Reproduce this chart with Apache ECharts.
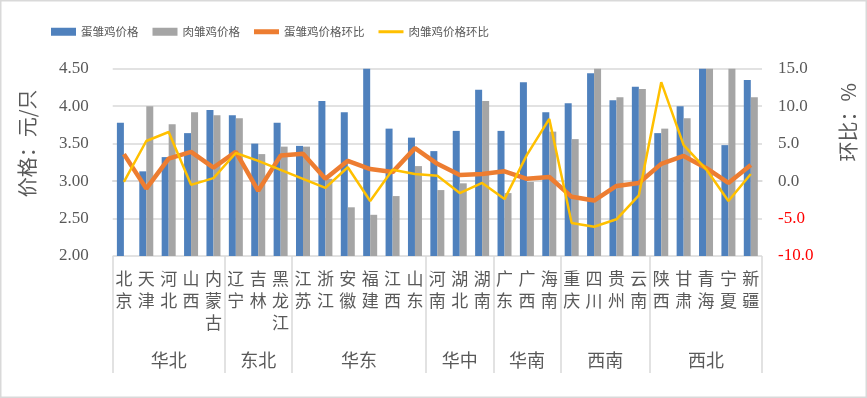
<!DOCTYPE html>
<html>
<head>
<meta charset="utf-8">
<script src="https://cdn.jsdelivr.net/npm/echarts@6/dist/echarts.min.js"></script>
<style>
html,body{margin:0;padding:0;background:#fff;}
#main{width:867px;height:398px;}
</style>
</head>
<body>
<div id="main"></div>
<script>
var categories = ['北京','天津','河北','山西','内蒙古','辽宁','吉林','黑龙江','江苏','浙江','安徽','福建','江西','山东','河南','湖北','湖南','广东','广西','海南','重庆','四川','贵州','云南','陕西','甘肃','青海','宁夏','新疆'];
var groups = ['华北','东北','华东','华中','华南','西南','西北'];
var groupSizes = [5,3,6,3,3,4,5];
var eggPrice = [3.78,3.13,3.32,3.64,3.95,3.88,3.50,3.78,3.47,4.07,3.92,4.55,3.70,3.58,3.40,3.67,4.22,3.67,4.32,3.92,4.04,4.44,4.08,4.26,3.64,4.00,4.60,3.48,4.35];
var broilerPrice = [null,4.00,3.76,3.92,3.88,3.84,3.36,3.46,3.46,3.03,2.65,2.55,2.80,3.20,2.88,2.97,4.07,2.84,2.99,3.66,3.56,4.60,4.12,4.23,3.70,3.84,4.60,4.60,4.12];
var eggMoM = [3.6,-1.0,3.0,3.9,1.8,3.9,-1.3,3.4,3.65,0.3,2.7,1.6,1.2,4.4,2.3,0.8,0.95,1.3,0.3,0.55,-2.1,-2.6,-0.65,-0.25,2.3,3.35,1.75,-0.25,2.15];
var broilerMoM = [-0.1,5.35,6.55,-0.5,0.4,3.75,2.7,1.5,0.3,-0.9,1.85,-2.65,1.5,0.95,0.7,-1.6,-0.25,-2.4,3.5,8.3,-5.6,-6.1,-5.1,-1.9,13.2,4.8,1.6,-2.65,0.95];
var leftTicks = {min:2, max:4.5, interval:0.5};
var rightTicks = {min:-10, max:15, interval:5};

var boundaries = [0];
var centers = [];
var acc = 0;
groupSizes.forEach(function(s){ centers.push(acc + s/2); acc += s; boundaries.push(acc); });

var TXT = '#595959';
var GRID = '#d9d9d9';
var FONT = '"Noto Sans CJK SC", sans-serif';
var NUMFONT = '"Liberation Serif", "Noto Sans CJK SC", serif';
// legend line icons: thin horizontal band inside an 8px tall box
var thickLine = 'path://M0,0L0.01,0L0,0.01Z M0,1.5L25,1.5L25,6.5L0,6.5Z M0,8L0.01,8L0,7.99Z';
var thinLine = 'path://M0,0L0.01,0L0,0.01Z M0,2.5L25,2.5L25,5.5L0,5.5Z M0,8L0.01,8L0,7.99Z';

var chart = echarts.init(document.getElementById('main'));
chart.setOption({
  animation: false,
  backgroundColor: '#fff',
  graphic: [{type:'rect', shape:{x:0.75,y:0.75,width:865.5,height:396.5}, style:{fill:null, stroke:GRID, lineWidth:1.5}, silent:true}],
  legend: {
    left: 46, top: 21, itemWidth: 25, itemHeight: 8, itemGap: 14,
    textStyle: {fontSize: 11.5, color: TXT, fontFamily: FONT},
    data: [
      {name:'蛋雏鸡价格', icon:'rect'},
      {name:'肉雏鸡价格', icon:'rect'},
      {name:'蛋雏鸡价格环比', icon: thickLine},
      {name:'肉雏鸡价格环比', icon: thinLine}
    ]
  },
  grid: {left: 112.7, right: 105, top: 68.7, bottom: 142},
  xAxis: [{
    type: 'category', data: categories, position: 'bottom',
    axisLine: {lineStyle: {color: GRID, width: 1.5}},
    axisTick: {show: false},
    axisLabel: {interval: 0, margin: 12, color: TXT, fontSize: 17, lineHeight: 22, fontFamily: FONT,
      formatter: function(v){ return v.split('').join('\n'); }}
  }, {
    type: 'value', min: 0, max: categories.length, position: 'bottom',
    axisLine: {show: false}, splitLine: {show: false},
    axisTick: {show: true, customValues: boundaries, length: 117, lineStyle: {color: GRID, width: 1.5}},
    axisLabel: {customValues: centers, margin: 95, color: TXT, fontSize: 18, fontFamily: FONT,
      formatter: function(v){ var i = centers.indexOf(v); return i >= 0 ? groups[i] : ''; }}
  }],
  yAxis: [{
    type: 'value', min: leftTicks.min, max: leftTicks.max, interval: leftTicks.interval,
    name: '价格：元/只', nameLocation: 'middle', nameRotate: 90, nameGap: 75,
    nameTextStyle: {color: TXT, fontSize: 20, fontFamily: FONT, padding: [0,0,0,38]},
    axisLine: {show: false}, axisTick: {show: false},
    splitLine: {lineStyle: {color: GRID, width: 1.5}},
    axisLabel: {margin: 24, color: TXT, fontSize: 17, fontFamily: NUMFONT,
      formatter: function(v){ return v.toFixed(2); }}
  }, {
    type: 'value', min: rightTicks.min, max: rightTicks.max, interval: rightTicks.interval, position: 'right',
    name: '环比：%', nameLocation: 'middle', nameRotate: 90, nameGap: 76,
    nameTextStyle: {color: TXT, fontSize: 20, fontFamily: FONT, padding: [0,0,0,80]},
    axisLine: {show: false}, axisTick: {show: false}, splitLine: {show: false},
    axisLabel: {margin: 16, fontSize: 17, fontFamily: NUMFONT,
      color: function(v){ return Number(v) < 0 ? '#FF0000' : TXT; },
      formatter: function(v){ return v.toFixed(1); }}
  }],
  series: [
    {name:'蛋雏鸡价格', type:'bar', data: eggPrice, barWidth: 7, barGap: '0%', itemStyle:{color:'#4F81BD'}, clip: true},
    {name:'肉雏鸡价格', type:'bar', data: broilerPrice, barWidth: 7, barGap: '0%', itemStyle:{color:'#A5A5A5'}, clip: true},
    {name:'蛋雏鸡价格环比', type:'line', yAxisIndex: 1, data: eggMoM, symbol:'none', itemStyle:{color:'#ED7D31'}, lineStyle:{color:'#ED7D31', width:4.5}},
    {name:'肉雏鸡价格环比', type:'line', yAxisIndex: 1, data: broilerMoM, symbol:'none', itemStyle:{color:'#FFC000'}, lineStyle:{color:'#FFC000', width:2.5}}
  ]
});
</script>
</body>
</html>
